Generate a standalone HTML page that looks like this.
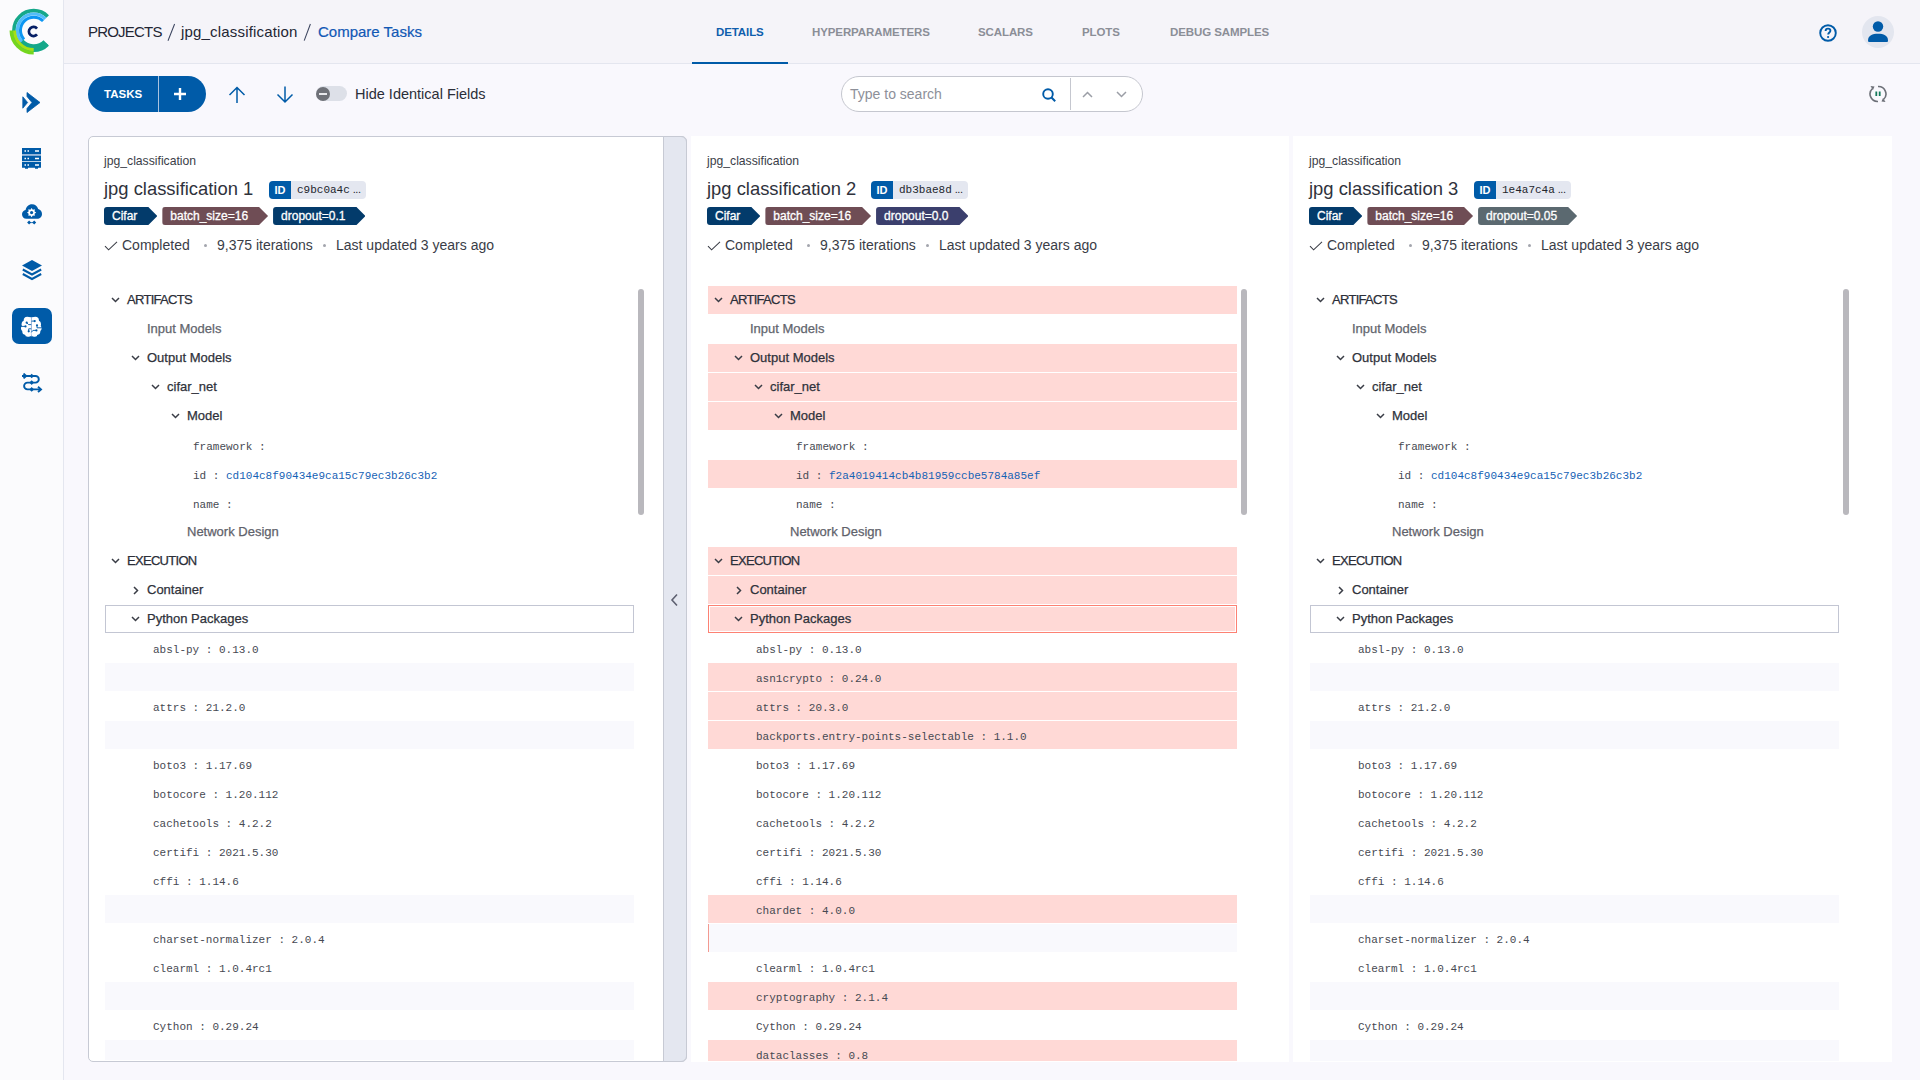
<!DOCTYPE html>
<html><head><meta charset="utf-8"><style>
*{margin:0;padding:0;box-sizing:border-box}
html,body{width:1920px;height:1080px;overflow:hidden;background:#f9f8fd;font-family:"Liberation Sans",sans-serif;color:#2b2e38;position:relative}
.abs,.t,.ic,.row,.panel,.strip,.sb,.idb,.tags{position:absolute}
.t{white-space:nowrap}
#side{position:absolute;left:0;top:0;width:63px;height:1080px;background:#fbfbfd;border-right:1px solid #e4e6ef;box-sizing:content-box}
#head{position:absolute;left:64px;top:0;width:1856px;height:63px;background:#f5f4f9;border-bottom:1px solid #e4e6ef;box-sizing:content-box}
.bc{top:22px;font-size:15px;line-height:20px;color:#232634}
.tab{top:24px;font-size:11.5px;line-height:16px;font-weight:bold;color:#8b8e97;letter-spacing:-0.1px}
.panel{top:136px;height:926px;background:#fff;overflow:hidden}
.panel.p1{border:1px solid #c7cad4;border-radius:5px}
.strip{top:136px;width:24px;height:926px;background:#e4e7f0;border:1px solid #c7cad4;border-radius:0 6px 6px 0}
.sb{top:289px;width:6px;height:226px;border-radius:3px;background:#b9b8bd}
.proj{font-size:12.2px;line-height:16px;color:#3b3e48}
.title{font-size:18.4px;line-height:24px;color:#2f323c}
.idb{top:181px;height:18px;display:flex;border-radius:4px;overflow:hidden;background:#e4e7f0;width:97px}
.idl{background:#005ba8;color:#fff;font-weight:bold;font-size:11px;width:22px;line-height:18px;text-align:center}
.ell{font-family:"Liberation Sans",sans-serif;font-size:11px;margin-left:3px;letter-spacing:-0.5px}
.idv{font-family:"Liberation Mono",monospace;font-size:11px;line-height:16px;padding-left:6px;color:#22252c}
.tags{top:207px;display:flex;gap:5px}
.tag{position:relative;height:18px;line-height:18px;font-size:12px;color:#fff;-webkit-text-stroke:0.3px #fff;background:var(--c);padding:0 20px 0 8px;border-radius:3px 0 0 3px;clip-path:polygon(0 0,calc(100% - 9px) 0,100% 50%,calc(100% - 9px) 100%,0 100%)}
.status{font-size:14px;line-height:18px;color:#3a3d47}
.dotc{width:3px;height:3px;border-radius:50%;background:#a3a5ad}
.row{width:529px;height:28px}
.pink{background:#ffd9d6}
.pp{border:1px solid #c3c6d3}
.ppr{border:1px solid #fd8173}
.ppr::after{content:"";position:absolute;left:0;top:0;right:0;bottom:0;border:1px solid #fff}
.ph{background:#f9f9fd}
.phl{border-left:1px solid #f39a91}
.sec{font-size:13px;line-height:28px;color:#2b2e38;letter-spacing:-0.7px;-webkit-text-stroke:0.25px #2b2e38}
.lbl{font-size:13px;line-height:28px;color:#2f323b;-webkit-text-stroke:0.25px currentColor}
.mono{font-family:"Liberation Mono",monospace;font-size:11px;line-height:32px;color:#464952}
.lnk{color:#1562b5}
</style></head><body>

<div id="side"></div>
<svg class="ic" style="left:9px;top:8px" width="50" height="50" viewBox="0 0 50 50"><path d="M38.70 8.40 A19.8 19.8 0 1 0 38.70 36.40" fill="none" stroke="#15a88a" stroke-width="3.6"/><path d="M11.45 33.52 A17.3 17.3 0 0 0 36.93 34.63" fill="none" stroke="#15a88a" stroke-width="6.8"/><path d="M36.30 10.80 A16.4 16.4 0 0 0 12.71 33.58" fill="none" stroke="#52bdf8" stroke-width="3.2"/><path d="M34.10 13.00 A13.3 13.3 0 0 0 14.97 31.47" fill="none" stroke="#0c96f2" stroke-width="3.0"/><path d="M2.30 22.40 A22.4 22.4 0 0 0 24.70 44.80" fill="none" stroke="#74d61e" stroke-width="3.5"/><path d="M5.50 22.40 A19.2 19.2 0 0 0 24.70 41.60" fill="none" stroke="#a8e014" stroke-width="3.0"/><path d="M28.02 20.54 A4.6 4.6 0 1 0 28.02 26.46" fill="none" stroke="#061f66" stroke-width="2.7"/></svg>
<svg class="ic" style="left:22px;top:92px" width="19" height="21" viewBox="0 0 19 21"><path d="M0.8 4.8 L5.6 10.5 L0.8 16.2 Z" fill="#005ba8" stroke="#005ba8" stroke-width="0.8" stroke-linejoin="round"/><path d="M5 0.5 L18 10.5 L5 20.5 L5 16.5 L10 10.5 L5 4.5 Z" fill="#005ba8" stroke="#005ba8" stroke-width="0.8" stroke-linejoin="round"/></svg>
<svg class="ic" style="left:22px;top:148px" width="19" height="21" viewBox="0 0 19 21"><path d="M0 0 H19 V6.2 H0 Z M0 7.6 H19 V13.3 H0 Z M0 14.1 H19 V19.8 H16 V20.8 H13 V19.8 H6 V20.8 H3 V19.8 H0 Z" fill="#005ba8"/><rect x="0" y="6.2" width="19" height="1.4" fill="#8fb0d6"/><path d="M2.5 3 h1.5 M5.5 3 h1.5 M13 3 h4 M2.5 10.5 h1.5 M5.5 10.5 h1.5 M13 10.5 h4 M2.5 17 h1.5 M5.5 17 h1.5 M13 17 h4" stroke="#fff" stroke-width="1.5"/></svg>
<svg class="ic" style="left:22px;top:204px" width="20" height="21" viewBox="0 0 20 21"><path d="M4.5 14.8 C1.8 14.8 0 12.8 0 10.3 C0 8 1.5 6.3 3.6 6 C4.2 3 6.5 0.3 10 0.3 C13 0.3 15.3 2.3 16.2 5 C18.5 5.6 20 7.6 20 10 C20 12.8 17.8 14.8 15.2 14.8 Z" fill="#005ba8"/><polygon points="9.60,4.00 10.82,5.64 12.85,5.35 12.56,7.38 14.20,8.60 12.56,9.82 12.85,11.85 10.82,11.56 9.60,13.20 8.38,11.56 6.35,11.85 6.64,9.82 5.00,8.60 6.64,7.38 6.35,5.35 8.38,5.64" fill="#fff"/><circle cx="9.6" cy="8.6" r="1.6" fill="#005ba8"/><path d="M7.1 16.6 L9.1 18.6 L7.1 20.6 L5.1 18.6 Z M12.2 16.6 L14.2 18.6 L12.2 20.6 L10.2 18.6 Z" fill="#005ba8"/><path d="M7 18.6 H12.3" stroke="#005ba8" stroke-width="0.8"/></svg>
<svg class="ic" style="left:22px;top:260px" width="20" height="21" viewBox="0 0 20 21"><path d="M10 0 L20 5.5 L10 11 L0 5.5 Z" fill="#005ba8"/><path d="M0.8 9.5 L10 14.5 L19.2 9.5 M0.8 14 L10 19 L19.2 14" fill="none" stroke="#005ba8" stroke-width="2"/></svg>
<div class="abs" style="left:12px;top:308px;width:40px;height:36px;border-radius:7px;background:#005ba8"></div>
<svg class="ic" style="left:21px;top:316px" width="21" height="21" viewBox="0 0 21 21"><g fill="#fff"><circle cx="6.3" cy="4.3" r="3.6"/><circle cx="4.0" cy="8.2" r="3.4"/><circle cx="2.9" cy="12.2" r="2.9"/><circle cx="4.6" cy="15.6" r="3.3"/><circle cx="7.2" cy="17.6" r="3.1"/><rect x="4.6" y="1.2" width="5.5" height="19"/><circle cx="14.3" cy="4.3" r="3.6"/><circle cx="16.6" cy="8.2" r="3.4"/><circle cx="17.7" cy="12.2" r="2.9"/><circle cx="16.0" cy="15.6" r="3.3"/><circle cx="13.4" cy="17.6" r="3.1"/><rect x="10.5" y="1.2" width="5.5" height="19"/></g><path d="M10.3 1 V20.5" stroke="#b4c0e4" stroke-width="0.5"/><g stroke="#005ba8" stroke-width="0.9" fill="none"><path d="M-0.5 10.4 H4.5 M5.7 6.7 L7.6 8.6 H10.2 M10.2 12.8 H7.7 V15.3 M13.7 5.1 H10.4 M16 9.3 V11.8 H21 M10.4 16.3 L11.9 14.4 H15.4"/></g><g fill="#005ba8"><circle cx="4.5" cy="10.4" r="1.1"/><circle cx="5.7" cy="6.7" r="1.1"/><circle cx="7.7" cy="15.3" r="1.1"/><circle cx="13.7" cy="5.1" r="1.1"/><circle cx="16" cy="9.3" r="1.1"/><circle cx="15.4" cy="14.4" r="1.1"/></g></svg>
<svg class="ic" style="left:21px;top:373px" width="22" height="20" viewBox="0 0 22 20"><path d="M1 3 H14.5 A3.3 3.3 0 0 1 14.5 9.6 H6.5 A3.4 3.4 0 0 0 6.5 16.4 H19" fill="none" stroke="#005ba8" stroke-width="1.9"/><path d="M2.5 0.6 L5.2 3 L2.5 5.4 M17 13.8 L20 16.4 L17 19" fill="none" stroke="#005ba8" stroke-width="1.9"/><path d="M10.7 0.7 L13 3 L10.7 5.3 L8.4 3 Z M10.7 7.3 L13 9.6 L10.7 11.9 L8.4 9.6 Z M10.7 14.1 L13 16.4 L10.7 18.7 L8.4 16.4 Z" fill="#005ba8"/></svg>

<div id="head"></div>
<div class="t bc" style="left:88px;letter-spacing:-0.8px">PROJECTS</div>
<svg class="ic" style="left:160px;top:20px" width="160" height="26" viewBox="160 20 160 26"><path d="M174.6 24 L168 40.8 M310.4 24 L304.2 40.6" stroke="#3d4660" stroke-width="1.05"/></svg>
<div class="t bc" style="left:181px;letter-spacing:0.18px">jpg_classification</div>
<div class="t bc" style="left:318px;color:#1158b5;-webkit-text-stroke:0.2px #1158b5">Compare Tasks</div>
<div class="t tab" style="left:716px;color:#0f5ead">DETAILS</div>
<div class="abs" style="left:692px;top:62px;width:96px;height:2px;background:#005ba8"></div>
<div class="t tab" style="left:812px">HYPERPARAMETERS</div>
<div class="t tab" style="left:978px">SCALARS</div>
<div class="t tab" style="left:1082px">PLOTS</div>
<div class="t tab" style="left:1170px">DEBUG SAMPLES</div>
<svg class="ic" style="left:1819px;top:24px" width="18" height="18" viewBox="0 0 18 18"><circle cx="9" cy="9" r="7.8" fill="none" stroke="#005ba8" stroke-width="1.9"/><path d="M6.6 7 C6.6 5.5 7.7 4.6 9 4.6 C10.4 4.6 11.4 5.5 11.4 6.8 C11.4 8.4 9.2 8.6 9.2 10.4" fill="none" stroke="#005ba8" stroke-width="1.9"/><circle cx="9.1" cy="13" r="1.1" fill="#005ba8"/></svg>
<div class="abs" style="left:1862px;top:16px;width:32px;height:32px;border-radius:50%;background:#e3e6ef"></div>
<svg class="ic" style="left:1868px;top:21px" width="20" height="21" viewBox="0 0 20 21"><circle cx="10" cy="5.5" r="5.2" fill="#005ba8"/><path d="M0 19.5 C0 14.5 4.5 12.8 10 12.8 C15.5 12.8 20 14.5 20 19.5 C20 20.5 19.5 21 18.5 21 H1.5 C0.5 21 0 20.5 0 19.5 Z" fill="#005ba8"/></svg>

<div class="abs" style="left:88px;top:76px;width:118px;height:36px;border-radius:18px;background:#005ba8"></div>
<div class="abs" style="left:158px;top:76px;width:1px;height:36px;background:#a9c3e0"></div>
<div class="t" style="left:104px;top:86px;font-size:11.5px;line-height:16px;font-weight:bold;color:#fff">TASKS</div>
<svg class="ic" style="left:173px;top:87px" width="14" height="14" viewBox="0 0 14 14"><path d="M7 1 V13 M1 7 H13" stroke="#fff" stroke-width="2.4"/></svg>
<svg class="ic" style="left:228px;top:86px" width="18" height="18" viewBox="0 0 18 18"><path d="M9 17 V1.5 M1.5 9 L9 1.5 L16.5 9" fill="none" stroke="#005ba8" stroke-width="1.5"/></svg>
<svg class="ic" style="left:276px;top:86px" width="18" height="18" viewBox="0 0 18 18"><path d="M9 0.5 V16 M1.5 8.5 L9 16 L16.5 8.5" fill="none" stroke="#005ba8" stroke-width="1.5"/></svg>
<div class="abs" style="left:316px;top:86px;width:31px;height:15px;border-radius:8px;background:#dde0e8"></div>
<div class="abs" style="left:316px;top:87px;width:14px;height:14px;border-radius:50%;background:#6f7178"></div>
<div class="abs" style="left:319px;top:93px;width:8px;height:2px;background:#e8e8ec"></div>
<div class="t" style="left:355px;top:85px;font-size:14.5px;line-height:18px;color:#2b2e38">Hide Identical Fields</div>
<div class="abs" style="left:841px;top:76px;width:302px;height:36px;border-radius:18px;background:#fff;border:1px solid #c5c7cf"></div>
<div class="t" style="left:850px;top:85px;font-size:14px;line-height:18px;color:#8d9099">Type to search</div>
<svg class="ic" style="left:1042px;top:88px" width="14" height="14" viewBox="0 0 14 14"><circle cx="6" cy="6" r="4.8" fill="none" stroke="#005ba8" stroke-width="1.9"/><path d="M9.5 9.5 L13.2 13.2" stroke="#005ba8" stroke-width="2"/></svg>
<div class="abs" style="left:1070px;top:78px;width:1px;height:32px;background:#c5c7cf"></div>
<svg class="ic" style="left:1082px;top:91px" width="11" height="7" viewBox="0 0 11 7"><path d="M1 6 L5.5 1.5 L10 6" fill="none" stroke="#9b9ea6" stroke-width="1.5"/></svg>
<svg class="ic" style="left:1116px;top:91px" width="11" height="7" viewBox="0 0 11 7"><path d="M1 1 L5.5 5.5 L10 1" fill="none" stroke="#9b9ea6" stroke-width="1.5"/></svg>
<svg class="ic" style="left:1869px;top:85px" width="18" height="18" viewBox="0 0 18 18"><path d="M3.5 3.5 A7.5 7.5 0 0 0 9 16.5 M14.5 14.5 A7.5 7.5 0 0 0 9 1.5" fill="none" stroke="#6d7078" stroke-width="1.6"/><path d="M1.5 1 L5.5 1.5 L4 5 Z M16.5 17 L12.5 16.5 L14 13 Z" fill="#6d7078"/><path d="M7.3 6.5 V11 M10.7 6.5 V11" stroke="#167a5c" stroke-width="1.8"/></svg>
<div class="panel p1" style="left:88px;width:599px"></div>
<div class="strip" style="left:663px"></div>
<svg class="ic" style="left:669px;top:593px" width="10" height="14" viewBox="0 0 10 14"><path d="M8 1.5 L3 7 L8 12.5" fill="none" stroke="#5d6070" stroke-width="1.6"/></svg>
<div style="position:absolute;left:0;top:0;width:1920px;height:1060px;overflow:hidden">
<div class="t proj" style="left:104px;top:153px">jpg_classification</div>
<div class="t title" style="left:104px;top:177px">jpg classification 1</div>
<div class="idb" style="left:269px"><span class="idl">ID</span><span class="idv">c9bc0a4c<span class="ell">...</span></span></div>
<div class="tags" style="left:104px"><span class="tag" style="--c:#033b6b">Cifar</span><span class="tag" style="--c:#6f4d55">batch_size=16</span><span class="tag" style="--c:#033b6b">dropout=0.1</span></div>
<svg class="ic" style="left:104px;top:241px" width="14" height="10" viewBox="0 0 14 10"><path d="M1 5.2 L4.6 8.8 L13 0.8" fill="none" stroke="#3a3d46" stroke-width="1.05"/></svg>
<div class="t status" style="left:122px;top:236px">Completed</div>
<div class="abs dotc" style="left:204px;top:244px"></div>
<div class="t status" style="left:217px;top:236px">9,375 iterations</div>
<div class="abs dotc" style="left:323px;top:244px"></div>
<div class="t status" style="left:336px;top:236px">Last updated 3 years ago</div>
<div class="sb" style="left:638px"></div>
<div class="row" style="left:105px;top:286px"></div>
<svg class="ic" style="left:111px;top:297px" width="9" height="6" viewBox="0 0 9 6"><path d="M1 1 L4.5 4.5 L8 1" fill="none" stroke="#3a3d46" stroke-width="1.5"/></svg>
<div class="t sec" style="left:127px;top:286px">ARTIFACTS</div>
<div class="row" style="left:105px;top:315px"></div>
<div class="t lbl" style="left:147px;top:315px"><span style="color:#62656d;-webkit-text-stroke:0.25px #62656d">Input Models</span></div>
<div class="row" style="left:105px;top:344px"></div>
<svg class="ic" style="left:131px;top:355px" width="9" height="6" viewBox="0 0 9 6"><path d="M1 1 L4.5 4.5 L8 1" fill="none" stroke="#3a3d46" stroke-width="1.5"/></svg>
<div class="t lbl" style="left:147px;top:344px"><span>Output Models</span></div>
<div class="row" style="left:105px;top:373px"></div>
<svg class="ic" style="left:151px;top:384px" width="9" height="6" viewBox="0 0 9 6"><path d="M1 1 L4.5 4.5 L8 1" fill="none" stroke="#3a3d46" stroke-width="1.5"/></svg>
<div class="t lbl" style="left:167px;top:373px"><span>cifar_net</span></div>
<div class="row" style="left:105px;top:402px"></div>
<svg class="ic" style="left:171px;top:413px" width="9" height="6" viewBox="0 0 9 6"><path d="M1 1 L4.5 4.5 L8 1" fill="none" stroke="#3a3d46" stroke-width="1.5"/></svg>
<div class="t lbl" style="left:187px;top:402px"><span>Model</span></div>
<div class="row" style="left:105px;top:431px"></div>
<div class="t mono" style="left:193px;top:431px">framework :</div>
<div class="row" style="left:105px;top:460px"></div>
<div class="t mono" style="left:193px;top:460px">id : <span class="lnk">cd104c8f90434e9ca15c79ec3b26c3b2</span></div>
<div class="row" style="left:105px;top:489px"></div>
<div class="t mono" style="left:193px;top:489px">name :</div>
<div class="row" style="left:105px;top:518px"></div>
<div class="t lbl" style="left:187px;top:518px;color:#5f626b">Network Design</div>
<div class="row" style="left:105px;top:547px"></div>
<svg class="ic" style="left:111px;top:558px" width="9" height="6" viewBox="0 0 9 6"><path d="M1 1 L4.5 4.5 L8 1" fill="none" stroke="#3a3d46" stroke-width="1.5"/></svg>
<div class="t sec" style="left:127px;top:547px">EXECUTION</div>
<div class="row" style="left:105px;top:576px"></div>
<svg class="ic" style="left:133px;top:586px" width="6" height="9" viewBox="0 0 6 9"><path d="M1 1 L4.5 4.5 L1 8" fill="none" stroke="#3a3d46" stroke-width="1.5"/></svg>
<div class="t lbl" style="left:147px;top:576px"><span>Container</span></div>
<div class="row pp" style="left:105px;top:605px"></div>
<svg class="ic" style="left:131px;top:616px" width="9" height="6" viewBox="0 0 9 6"><path d="M1 1 L4.5 4.5 L8 1" fill="none" stroke="#3a3d46" stroke-width="1.5"/></svg>
<div class="t lbl" style="left:147px;top:605px"><span>Python Packages</span></div>
<div class="t mono" style="left:153px;top:634px">absl-py : 0.13.0</div>
<div class="row ph" style="left:105px;top:663px"></div>
<div class="t mono" style="left:153px;top:692px">attrs : 21.2.0</div>
<div class="row ph" style="left:105px;top:721px"></div>
<div class="t mono" style="left:153px;top:750px">boto3 : 1.17.69</div>
<div class="t mono" style="left:153px;top:779px">botocore : 1.20.112</div>
<div class="t mono" style="left:153px;top:808px">cachetools : 4.2.2</div>
<div class="t mono" style="left:153px;top:837px">certifi : 2021.5.30</div>
<div class="t mono" style="left:153px;top:866px">cffi : 1.14.6</div>
<div class="row ph" style="left:105px;top:895px"></div>
<div class="t mono" style="left:153px;top:924px">charset-normalizer : 2.0.4</div>
<div class="t mono" style="left:153px;top:953px">clearml : 1.0.4rc1</div>
<div class="row ph" style="left:105px;top:982px"></div>
<div class="t mono" style="left:153px;top:1011px">Cython : 0.29.24</div>
<div class="row ph" style="left:105px;top:1040px"></div>
</div>
<div class="panel" style="left:691px;width:598px"></div>
<div style="position:absolute;left:0;top:0;width:1920px;height:1061px;overflow:hidden">
<div class="t proj" style="left:707px;top:153px">jpg_classification</div>
<div class="t title" style="left:707px;top:177px">jpg classification 2</div>
<div class="idb" style="left:871px"><span class="idl">ID</span><span class="idv">db3bae8d<span class="ell">...</span></span></div>
<div class="tags" style="left:707px"><span class="tag" style="--c:#033b6b">Cifar</span><span class="tag" style="--c:#6f4d55">batch_size=16</span><span class="tag" style="--c:#3b3f6d">dropout=0.0</span></div>
<svg class="ic" style="left:707px;top:241px" width="14" height="10" viewBox="0 0 14 10"><path d="M1 5.2 L4.6 8.8 L13 0.8" fill="none" stroke="#3a3d46" stroke-width="1.05"/></svg>
<div class="t status" style="left:725px;top:236px">Completed</div>
<div class="abs dotc" style="left:807px;top:244px"></div>
<div class="t status" style="left:820px;top:236px">9,375 iterations</div>
<div class="abs dotc" style="left:926px;top:244px"></div>
<div class="t status" style="left:939px;top:236px">Last updated 3 years ago</div>
<div class="sb" style="left:1241px"></div>
<div class="row pink" style="left:708px;top:286px"></div>
<svg class="ic" style="left:714px;top:297px" width="9" height="6" viewBox="0 0 9 6"><path d="M1 1 L4.5 4.5 L8 1" fill="none" stroke="#3a3d46" stroke-width="1.5"/></svg>
<div class="t sec" style="left:730px;top:286px">ARTIFACTS</div>
<div class="row" style="left:708px;top:315px"></div>
<div class="t lbl" style="left:750px;top:315px"><span style="color:#62656d;-webkit-text-stroke:0.25px #62656d">Input Models</span></div>
<div class="row pink" style="left:708px;top:344px"></div>
<svg class="ic" style="left:734px;top:355px" width="9" height="6" viewBox="0 0 9 6"><path d="M1 1 L4.5 4.5 L8 1" fill="none" stroke="#3a3d46" stroke-width="1.5"/></svg>
<div class="t lbl" style="left:750px;top:344px"><span>Output Models</span></div>
<div class="row pink" style="left:708px;top:373px"></div>
<svg class="ic" style="left:754px;top:384px" width="9" height="6" viewBox="0 0 9 6"><path d="M1 1 L4.5 4.5 L8 1" fill="none" stroke="#3a3d46" stroke-width="1.5"/></svg>
<div class="t lbl" style="left:770px;top:373px"><span>cifar_net</span></div>
<div class="row pink" style="left:708px;top:402px"></div>
<svg class="ic" style="left:774px;top:413px" width="9" height="6" viewBox="0 0 9 6"><path d="M1 1 L4.5 4.5 L8 1" fill="none" stroke="#3a3d46" stroke-width="1.5"/></svg>
<div class="t lbl" style="left:790px;top:402px"><span>Model</span></div>
<div class="row" style="left:708px;top:431px"></div>
<div class="t mono" style="left:796px;top:431px">framework :</div>
<div class="row pink" style="left:708px;top:460px"></div>
<div class="t mono" style="left:796px;top:460px">id : <span class="lnk">f2a4019414cb4b81959ccbe5784a85ef</span></div>
<div class="row" style="left:708px;top:489px"></div>
<div class="t mono" style="left:796px;top:489px">name :</div>
<div class="row" style="left:708px;top:518px"></div>
<div class="t lbl" style="left:790px;top:518px;color:#5f626b">Network Design</div>
<div class="row pink" style="left:708px;top:547px"></div>
<svg class="ic" style="left:714px;top:558px" width="9" height="6" viewBox="0 0 9 6"><path d="M1 1 L4.5 4.5 L8 1" fill="none" stroke="#3a3d46" stroke-width="1.5"/></svg>
<div class="t sec" style="left:730px;top:547px">EXECUTION</div>
<div class="row pink" style="left:708px;top:576px"></div>
<svg class="ic" style="left:736px;top:586px" width="6" height="9" viewBox="0 0 6 9"><path d="M1 1 L4.5 4.5 L1 8" fill="none" stroke="#3a3d46" stroke-width="1.5"/></svg>
<div class="t lbl" style="left:750px;top:576px"><span>Container</span></div>
<div class="row pp pink ppr" style="left:708px;top:605px"></div>
<svg class="ic" style="left:734px;top:616px" width="9" height="6" viewBox="0 0 9 6"><path d="M1 1 L4.5 4.5 L8 1" fill="none" stroke="#3a3d46" stroke-width="1.5"/></svg>
<div class="t lbl" style="left:750px;top:605px"><span>Python Packages</span></div>
<div class="t mono" style="left:756px;top:634px">absl-py : 0.13.0</div>
<div class="row pink" style="left:708px;top:663px"></div>
<div class="t mono" style="left:756px;top:663px">asn1crypto : 0.24.0</div>
<div class="row pink" style="left:708px;top:692px"></div>
<div class="t mono" style="left:756px;top:692px">attrs : 20.3.0</div>
<div class="row pink" style="left:708px;top:721px"></div>
<div class="t mono" style="left:756px;top:721px">backports.entry-points-selectable : 1.1.0</div>
<div class="t mono" style="left:756px;top:750px">boto3 : 1.17.69</div>
<div class="t mono" style="left:756px;top:779px">botocore : 1.20.112</div>
<div class="t mono" style="left:756px;top:808px">cachetools : 4.2.2</div>
<div class="t mono" style="left:756px;top:837px">certifi : 2021.5.30</div>
<div class="t mono" style="left:756px;top:866px">cffi : 1.14.6</div>
<div class="row pink" style="left:708px;top:895px"></div>
<div class="t mono" style="left:756px;top:895px">chardet : 4.0.0</div>
<div class="row ph phl" style="left:708px;top:924px"></div>
<div class="t mono" style="left:756px;top:953px">clearml : 1.0.4rc1</div>
<div class="row pink" style="left:708px;top:982px"></div>
<div class="t mono" style="left:756px;top:982px">cryptography : 2.1.4</div>
<div class="t mono" style="left:756px;top:1011px">Cython : 0.29.24</div>
<div class="row pink" style="left:708px;top:1040px"></div>
<div class="t mono" style="left:756px;top:1040px">dataclasses : 0.8</div>
</div>
<div class="panel" style="left:1293px;width:599px"></div>
<div style="position:absolute;left:0;top:0;width:1920px;height:1061px;overflow:hidden">
<div class="t proj" style="left:1309px;top:153px">jpg_classification</div>
<div class="t title" style="left:1309px;top:177px">jpg classification 3</div>
<div class="idb" style="left:1474px"><span class="idl">ID</span><span class="idv">1e4a7c4a<span class="ell">...</span></span></div>
<div class="tags" style="left:1309px"><span class="tag" style="--c:#033b6b">Cifar</span><span class="tag" style="--c:#6f4d55">batch_size=16</span><span class="tag" style="--c:#5b6970">dropout=0.05</span></div>
<svg class="ic" style="left:1309px;top:241px" width="14" height="10" viewBox="0 0 14 10"><path d="M1 5.2 L4.6 8.8 L13 0.8" fill="none" stroke="#3a3d46" stroke-width="1.05"/></svg>
<div class="t status" style="left:1327px;top:236px">Completed</div>
<div class="abs dotc" style="left:1409px;top:244px"></div>
<div class="t status" style="left:1422px;top:236px">9,375 iterations</div>
<div class="abs dotc" style="left:1528px;top:244px"></div>
<div class="t status" style="left:1541px;top:236px">Last updated 3 years ago</div>
<div class="sb" style="left:1843px"></div>
<div class="row" style="left:1310px;top:286px"></div>
<svg class="ic" style="left:1316px;top:297px" width="9" height="6" viewBox="0 0 9 6"><path d="M1 1 L4.5 4.5 L8 1" fill="none" stroke="#3a3d46" stroke-width="1.5"/></svg>
<div class="t sec" style="left:1332px;top:286px">ARTIFACTS</div>
<div class="row" style="left:1310px;top:315px"></div>
<div class="t lbl" style="left:1352px;top:315px"><span style="color:#62656d;-webkit-text-stroke:0.25px #62656d">Input Models</span></div>
<div class="row" style="left:1310px;top:344px"></div>
<svg class="ic" style="left:1336px;top:355px" width="9" height="6" viewBox="0 0 9 6"><path d="M1 1 L4.5 4.5 L8 1" fill="none" stroke="#3a3d46" stroke-width="1.5"/></svg>
<div class="t lbl" style="left:1352px;top:344px"><span>Output Models</span></div>
<div class="row" style="left:1310px;top:373px"></div>
<svg class="ic" style="left:1356px;top:384px" width="9" height="6" viewBox="0 0 9 6"><path d="M1 1 L4.5 4.5 L8 1" fill="none" stroke="#3a3d46" stroke-width="1.5"/></svg>
<div class="t lbl" style="left:1372px;top:373px"><span>cifar_net</span></div>
<div class="row" style="left:1310px;top:402px"></div>
<svg class="ic" style="left:1376px;top:413px" width="9" height="6" viewBox="0 0 9 6"><path d="M1 1 L4.5 4.5 L8 1" fill="none" stroke="#3a3d46" stroke-width="1.5"/></svg>
<div class="t lbl" style="left:1392px;top:402px"><span>Model</span></div>
<div class="row" style="left:1310px;top:431px"></div>
<div class="t mono" style="left:1398px;top:431px">framework :</div>
<div class="row" style="left:1310px;top:460px"></div>
<div class="t mono" style="left:1398px;top:460px">id : <span class="lnk">cd104c8f90434e9ca15c79ec3b26c3b2</span></div>
<div class="row" style="left:1310px;top:489px"></div>
<div class="t mono" style="left:1398px;top:489px">name :</div>
<div class="row" style="left:1310px;top:518px"></div>
<div class="t lbl" style="left:1392px;top:518px;color:#5f626b">Network Design</div>
<div class="row" style="left:1310px;top:547px"></div>
<svg class="ic" style="left:1316px;top:558px" width="9" height="6" viewBox="0 0 9 6"><path d="M1 1 L4.5 4.5 L8 1" fill="none" stroke="#3a3d46" stroke-width="1.5"/></svg>
<div class="t sec" style="left:1332px;top:547px">EXECUTION</div>
<div class="row" style="left:1310px;top:576px"></div>
<svg class="ic" style="left:1338px;top:586px" width="6" height="9" viewBox="0 0 6 9"><path d="M1 1 L4.5 4.5 L1 8" fill="none" stroke="#3a3d46" stroke-width="1.5"/></svg>
<div class="t lbl" style="left:1352px;top:576px"><span>Container</span></div>
<div class="row pp" style="left:1310px;top:605px"></div>
<svg class="ic" style="left:1336px;top:616px" width="9" height="6" viewBox="0 0 9 6"><path d="M1 1 L4.5 4.5 L8 1" fill="none" stroke="#3a3d46" stroke-width="1.5"/></svg>
<div class="t lbl" style="left:1352px;top:605px"><span>Python Packages</span></div>
<div class="t mono" style="left:1358px;top:634px">absl-py : 0.13.0</div>
<div class="row ph" style="left:1310px;top:663px"></div>
<div class="t mono" style="left:1358px;top:692px">attrs : 21.2.0</div>
<div class="row ph" style="left:1310px;top:721px"></div>
<div class="t mono" style="left:1358px;top:750px">boto3 : 1.17.69</div>
<div class="t mono" style="left:1358px;top:779px">botocore : 1.20.112</div>
<div class="t mono" style="left:1358px;top:808px">cachetools : 4.2.2</div>
<div class="t mono" style="left:1358px;top:837px">certifi : 2021.5.30</div>
<div class="t mono" style="left:1358px;top:866px">cffi : 1.14.6</div>
<div class="row ph" style="left:1310px;top:895px"></div>
<div class="t mono" style="left:1358px;top:924px">charset-normalizer : 2.0.4</div>
<div class="t mono" style="left:1358px;top:953px">clearml : 1.0.4rc1</div>
<div class="row ph" style="left:1310px;top:982px"></div>
<div class="t mono" style="left:1358px;top:1011px">Cython : 0.29.24</div>
<div class="row ph" style="left:1310px;top:1040px"></div>
</div>
</body></html>
